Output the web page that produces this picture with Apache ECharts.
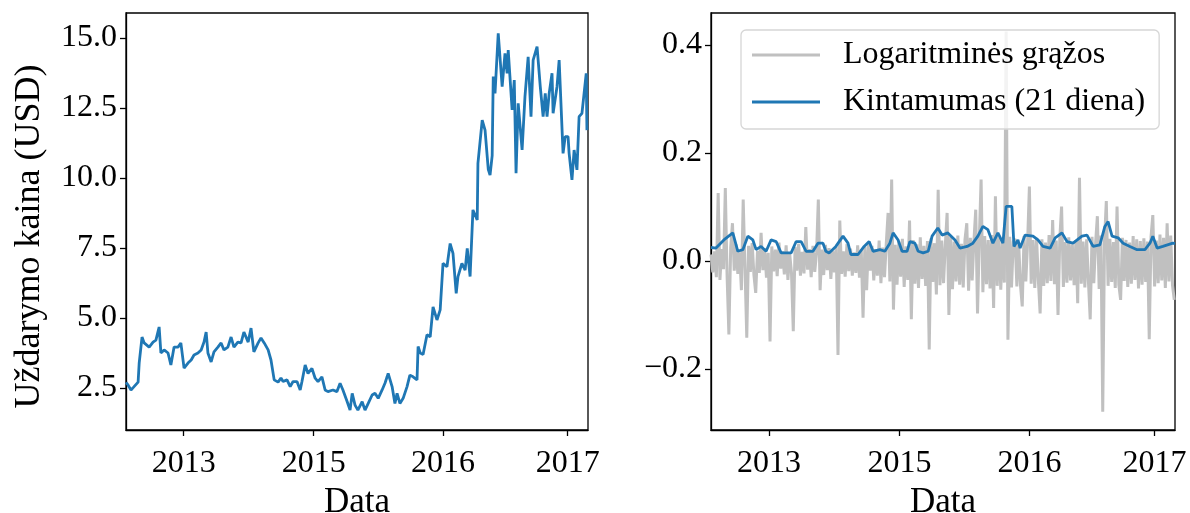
<!DOCTYPE html>
<html>
<head>
<meta charset="utf-8">
<script src="https://cdn.jsdelivr.net/npm/echarts@6/dist/echarts.min.js"></script>
<style>
  html, body { margin: 0; padding: 0; background: #fff; }
  #chart { width: 1190px; height: 513px; }
</style>
</head>
<body>
<div id="chart"></div>
<script>
// Trading-day offsets (from the first session) and closing prices, USD
const priceDay = [
  0, 6, 14, 22, 34, 37, 45, 51, 56, 65, 76, 84, 93, 98, 107, 118, 126, 135, 146, 154,
  163, 174, 183, 191, 202, 211, 219, 225, 230, 239, 247, 258, 267, 275, 286, 295, 303, 314, 323, 331,
  343, 351, 359, 371, 379, 388, 399, 407, 416, 427, 435, 441, 452, 461, 469, 480, 489, 494, 503, 511,
  522, 531, 539, 550, 559, 567, 581, 592, 601, 609, 621, 629, 635, 643, 651, 663, 671, 680, 691, 699,
  708, 719, 727, 733, 736, 747, 755, 761, 769, 778, 789, 797, 806, 817, 820, 826, 834, 845, 854, 862,
  873, 882, 890, 901, 910, 918, 927, 932, 943, 952, 958, 966, 974, 986, 988, 1000, 1008, 1017, 1022, 1028,
  1031, 1036, 1045, 1056, 1064, 1070, 1073, 1084, 1090, 1095, 1101, 1112, 1120, 1129, 1137, 1143, 1154, 1163, 1171, 1177,
  1182, 1188, 1196, 1199, 1210, 1216, 1221, 1227, 1233, 1241, 1244, 1252, 1258, 1266, 1272, 1280, 1286, 1292, 1294
];
const priceClose = [
  2.70, 2.60, 2.43, 2.54, 2.71, 3.39, 4.32, 4.11, 4.14, 3.96, 4.14, 4.21, 4.68, 3.75, 3.86, 3.75, 3.32, 3.96, 3.96, 4.11,
  3.21, 3.39, 3.50, 3.68, 3.75, 3.86, 4.14, 4.50, 3.75, 3.43, 3.79, 3.96, 4.11, 3.86, 3.96, 4.32, 3.96, 4.14, 4.11, 4.50,
  4.14, 4.64, 3.79, 4.11, 4.29, 4.11, 3.86, 3.50, 2.79, 2.71, 2.86, 2.73, 2.79, 2.55, 2.73, 2.73, 2.43, 2.73, 3.32, 3.02,
  3.20, 2.85, 2.73, 2.90, 2.43, 2.37, 2.43, 2.37, 2.67, 2.43, 2.01, 1.71, 2.31, 1.89, 1.71, 2.01, 1.71, 1.95, 2.25, 2.31,
  2.13, 2.43, 2.67, 2.90, 3.02, 2.55, 1.95, 2.31, 1.95, 2.13, 2.55, 2.96, 2.90, 2.79, 3.98, 3.75, 3.70, 4.40, 4.33, 5.40,
  4.93, 5.29, 6.95, 6.83, 7.66, 7.31, 5.88, 6.48, 6.95, 6.71, 7.49, 6.48, 8.86, 8.50, 10.52, 12.07, 11.71, 10.31, 10.10, 10.80,
  13.62, 13.02, 15.17, 13.26, 14.45, 13.74, 14.57, 12.43, 13.50, 10.17, 12.67, 11.00, 12.90, 14.33, 12.19, 14.21, 14.69, 13.26, 12.19, 13.02,
  12.19, 13.02, 13.74, 12.31, 13.26, 14.21, 14.17, 10.88, 11.48, 11.48, 10.88, 9.93, 11.00, 10.29, 12.19, 12.31, 13.02, 13.74, 11.71
];

// Daily log returns, one reading every RET_STEP trading days
const RET_STEP = 5;
const logReturns = [
  0.012, -0.021, 0.018, -0.030, 0.126, -0.035, 0.022, -0.015, 0.135, -0.028,
  -0.136, 0.025, 0.070, -0.018, 0.031, -0.024, 0.016, -0.054, 0.114, -0.012,
  -0.142, 0.028, -0.020, 0.033, -0.026, -0.059, 0.019, -0.022, 0.052, -0.017,
  0.024, -0.031, 0.015, -0.149, 0.027, -0.019, 0.021, -0.028, 0.034, -0.014,
  0.018, -0.025, 0.029, -0.035, 0.013, -0.022, -0.130, 0.026, -0.018, 0.032,
  -0.027, 0.017, -0.023, 0.063, -0.016, 0.022, -0.030, 0.028, -0.020, 0.015,
  0.114, -0.054, 0.021, -0.026, 0.030, -0.017, 0.024, -0.033, 0.019, -0.021,
  0.027, -0.174, 0.075, -0.024, 0.018, -0.029, 0.032, -0.019, 0.023, -0.027,
  0.016, -0.022, 0.029, -0.031, 0.021, -0.105, 0.026, -0.054, 0.034, -0.018,
  0.028, -0.036, 0.022, -0.027, 0.038, -0.041, 0.025, -0.030, 0.033, 0.089,
  -0.038, 0.151, -0.090, 0.030, -0.044, 0.036, -0.029, 0.041, -0.048, 0.027,
  -0.035, 0.075, -0.108, 0.039, -0.042, 0.031, -0.050, 0.044, -0.033, 0.028,
  -0.046, 0.037, -0.164, 0.042, -0.039, 0.033, -0.062, 0.132, -0.045, 0.038,
  -0.041, 0.030, 0.089, -0.100, 0.045, -0.052, 0.036, -0.038, 0.047, -0.044,
  0.032, -0.049, 0.040, 0.070, -0.055, 0.043, -0.036, 0.038, 0.095, -0.097,
  0.041, 0.151, -0.058, 0.046, -0.043, 0.039, -0.051, 0.048, -0.087, 0.120,
  -0.046, 0.044, -0.053, 0.037, -0.040, 0.425, -0.146, 0.045, -0.049, 0.036,
  0.041, -0.047, 0.033, -0.044, -0.084, 0.046, -0.038, 0.035, 0.138, -0.042,
  0.039, -0.050, 0.043, -0.035, -0.097, 0.040, -0.046, 0.034, -0.041, 0.048,
  -0.037, 0.076, -0.043, 0.038, -0.100, 0.042, 0.101, -0.048, 0.035, -0.040,
  0.044, -0.036, 0.031, -0.045, 0.039, -0.078, 0.154, -0.042, 0.036, -0.049,
  0.040, -0.038, -0.108, 0.045, -0.041, 0.033, 0.083, -0.052, 0.047, -0.279,
  0.038, 0.111, -0.046, 0.041, -0.039, 0.035, -0.050, 0.101, -0.044, -0.072,
  0.043, -0.037, 0.039, -0.048, 0.034, -0.042, 0.046, -0.035, 0.040, -0.051,
  0.037, -0.044, 0.042, -0.039, 0.036, -0.145, 0.045, 0.085, -0.047, 0.038,
  -0.041, 0.049, -0.036, 0.043, -0.050, 0.070, -0.038, 0.047, -0.045, -0.072
];

// 21-day rolling volatility
const volDay = [
  0, 14, 36, 61, 75, 89, 103, 117, 126, 140, 154, 168, 182, 196, 224, 238, 252, 266, 285, 299,
  313, 321, 330, 349, 369, 383, 391, 411, 428, 442, 453, 472, 486, 500, 509, 523, 534, 548, 556, 570,
  579, 593, 607, 618, 634, 646, 662, 682, 696, 716, 732, 746, 760, 774, 788, 802, 816, 825, 841, 847,
  858, 864, 878, 900, 914, 928, 948, 962, 981, 995, 1012, 1037, 1051, 1068, 1087, 1101, 1110, 1121, 1138, 1152,
  1171, 1191, 1213, 1227, 1235, 1247, 1263, 1291, 1297
];
const volValue = [
  0.025, 0.024, 0.039, 0.052, 0.018, 0.021, 0.046, 0.039, 0.021, 0.027, 0.018, 0.039, 0.036, 0.015, 0.015, 0.036, 0.036, 0.018, 0.018, 0.033,
  0.033, 0.018, 0.015, 0.027, 0.046, 0.033, 0.012, 0.012, 0.027, 0.036, 0.018, 0.021, 0.018, 0.033, 0.052, 0.039, 0.018, 0.018, 0.036, 0.033,
  0.018, 0.015, 0.018, 0.046, 0.061, 0.048, 0.052, 0.039, 0.024, 0.027, 0.033, 0.046, 0.064, 0.058, 0.033, 0.052, 0.033, 0.101, 0.101, 0.027,
  0.039, 0.024, 0.048, 0.046, 0.039, 0.027, 0.024, 0.043, 0.052, 0.036, 0.033, 0.046, 0.048, 0.027, 0.030, 0.064, 0.073, 0.046, 0.043, 0.033,
  0.027, 0.021, 0.021, 0.033, 0.046, 0.024, 0.027, 0.033, 0.032
];

// Year tick marks along the trading-day axis
const yearTickDay = [162, 527, 890, 1240];
const yearTickLabel = ['2013', '2015', '2016', '2017'];

const priceTicks = [2.5, 5.0, 7.5, 10.0, 12.5, 15.0];
const returnTicks = [-0.2, 0.0, 0.2, 0.4];

const FONT = 'Liberation Serif';
const BLUE = '#1f77b4';
const SILVER = '#c0c0c0';
const TXT = { color: '#000', fontFamily: FONT, fontSize: 32 };
const TITLE = { color: '#000', fontFamily: FONT, fontSize: 35 };

function xAxisFor(gridIndex) {
  return {
    type: 'value', gridIndex, min: 0, max: 1297,
    name: 'Data', nameLocation: 'middle', nameGap: 50,
    nameTextStyle: TITLE,
    splitLine: { show: false },
    axisLine: { show: true, onZero: false, lineStyle: { color: '#000', width: 1.3 } },
    axisTick: { show: true, customValues: yearTickDay, length: 6, lineStyle: { color: '#000', width: 1.3 } },
    axisLabel: {
      ...TXT, margin: 18, customValues: yearTickDay,
      formatter: v => yearTickLabel[yearTickDay.indexOf(v)] || ''
    }
  };
}

const chart = echarts.init(document.getElementById('chart'), null, { renderer: 'canvas' });
chart.setOption({
  animation: false,
  backgroundColor: '#fff',
  grid: [
    { left: 126, top: 13, width: 462, height: 417, outerBoundsMode: 'none', containLabel: false,
      show: true, borderColor: '#000', borderWidth: 1.3, backgroundColor: 'transparent' },
    { left: 711, top: 13, width: 464, height: 417, outerBoundsMode: 'none', containLabel: false,
      show: true, borderColor: '#000', borderWidth: 1.3, backgroundColor: 'transparent' }
  ],
  xAxis: [xAxisFor(0), xAxisFor(1)],
  yAxis: [
    {
      type: 'value', gridIndex: 0, min: 1.0, max: 15.893,
      name: 'Uždarymo kaina (USD)', nameLocation: 'middle', nameGap: 78, nameRotate: 90,
      nameTextStyle: { ...TITLE, fontSize: 36, padding: [0, 30, 0, 0] },
      splitLine: { show: false },
      axisLine: { show: true, onZero: false, lineStyle: { color: '#000', width: 1.3 } },
      axisTick: { show: true, customValues: priceTicks, length: 6, lineStyle: { color: '#000', width: 1.3 } },
      axisLabel: { ...TXT, margin: 9, customValues: priceTicks, formatter: v => v.toFixed(1) }
    },
    {
      type: 'value', gridIndex: 1, min: -0.313, max: 0.4593,
      splitLine: { show: false },
      axisLine: { show: true, onZero: false, lineStyle: { color: '#000', width: 1.3 } },
      axisTick: { show: true, customValues: returnTicks, length: 6, lineStyle: { color: '#000', width: 1.3 } },
      axisLabel: {
        ...TXT, margin: 9, customValues: returnTicks,
        formatter: v => (v < -1e-9 ? '\u2212' + Math.abs(v).toFixed(1) : Math.abs(v).toFixed(1))
      }
    }
  ],
  legend: {
    orient: 'vertical',
    left: 741, top: 30,
    padding: [9, 14, 11, 11],
    itemGap: 15,
    itemWidth: 68, itemHeight: 3,
    icon: 'rect',
    backgroundColor: 'rgba(255,255,255,0.8)',
    borderColor: '#d6d6d6', borderWidth: 1.3, borderRadius: 5,
    textStyle: { ...TXT, padding: [0, 0, 0, 18] },
    data: ['Logaritminės grąžos', 'Kintamumas (21 diena)']
  },
  series: [
    {
      name: 'Uždarymo kaina', type: 'line', xAxisIndex: 0, yAxisIndex: 0,
      data: priceDay.map((d, i) => [d, priceClose[i]]),
      showSymbol: false, lineStyle: { color: BLUE, width: 2.8 }, itemStyle: { color: BLUE }
    },
    {
      name: 'Logaritminės grąžos', type: 'line', xAxisIndex: 1, yAxisIndex: 1,
      data: logReturns.map((v, i) => [i * RET_STEP, v]),
      showSymbol: false, lineStyle: { color: SILVER, width: 3 }, itemStyle: { color: SILVER }
    },
    {
      name: 'Kintamumas (21 diena)', type: 'line', xAxisIndex: 1, yAxisIndex: 1,
      data: volDay.map((d, i) => [d, volValue[i]]),
      showSymbol: false, lineStyle: { color: BLUE, width: 2.8 }, itemStyle: { color: BLUE }
    }
  ]
});
</script>
</body>
</html>
